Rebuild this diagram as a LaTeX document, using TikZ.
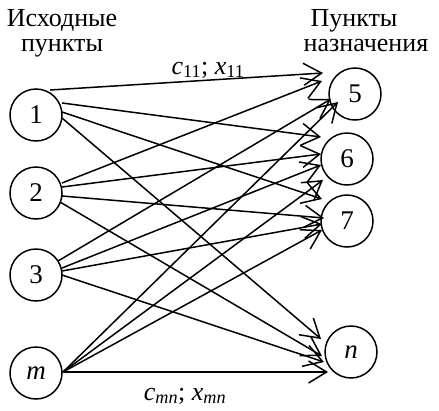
\documentclass[tikz,border=0pt]{standalone}
\usepackage{fontspec}
\setmainfont{Liberation Serif}
\usetikzlibrary{arrows.meta}
\begin{document}
\begin{tikzpicture}[x=1pt,y=-1pt,
  vtx/.style={draw,circle,line width=1.5pt,minimum size=52pt,inner sep=0pt,font=\fontsize{27}{30}\selectfont},
  arr/.style={line width=1.5pt,-{Straight Barb[length=18pt,width=22pt]}},
  hdr/.style={anchor=base,font=\fontsize{26}{28}\selectfont,inner sep=0pt},
  lbl/.style={anchor=base,font=\fontsize{26}{28}\selectfont,inner sep=0pt}]
\useasboundingbox (0,0) rectangle (439,410);
% headers
\node[hdr] (h1a) at (62,26) {Исходные};
\node[hdr] (h1b) at (62,51) {пункты};
\node[hdr] (h2a) at (354,26) {Пункты};
\node[hdr] (h2b) at (366,51) {назначения};
% vertices
\node[vtx] (s1) at (36,115) {1};
\node[vtx] (s2) at (36,193) {2};
\node[vtx] (s3) at (36,275) {3};
\node[vtx] (sm) at (36,373) {\itshape m};
\node[vtx] (t5) at (355,94) {5};
\node[vtx] (t6) at (347,159) {6};
\node[vtx] (t7) at (347,221) {7};
\node[vtx] (tn) at (351,352) {\itshape n};
% arrows from 1
\draw[arr] ([shift={(14,-25)}]s1.center) -- ([shift={(-32,-21)}]t5.center);
\draw[arr] ([shift={(26,-12)}]s1.center) -- ([shift={(-26,-22)}]t6.center);
\draw[arr] ([shift={(26,-3)}]s1.center) -- ([shift={(-25,-22)}]t7.center);
\draw[arr] ([shift={(26,3)}]s1.center) -- ([shift={(-30,-13)}]tn.center);
% arrows from 2
\draw[arr] ([shift={(26,-10)}]s2.center) -- ([shift={(-33,-13)}]t5.center);
\draw[arr] ([shift={(26,-6)}]s2.center) -- ([shift={(-26,-5)}]t6.center);
\draw[arr] ([shift={(26,3)}]s2.center) -- ([shift={(-23,-3)}]t7.center);
\draw[arr] ([shift={(24,9)}]s2.center) -- ([shift={(-29,4)}]tn.center);
% arrows from 3
\draw[arr] ([shift={(22,-14)}]s3.center) -- ([shift={(-24,5)}]t5.center);
\draw[arr] ([shift={(26,-7)}]s3.center) -- ([shift={(-26,6)}]t6.center);
\draw[arr] ([shift={(26,-4)}]s3.center) -- ([shift={(-25,3)}]t7.center);
\draw[arr] ([shift={(26,0)}]s3.center) -- ([shift={(-27,10)}]tn.center);
% arrows from m
\draw[arr] ([shift={(27,-1)}]sm.center) -- ([shift={(-17,8)}]t5.center);
\draw[arr] ([shift={(27,-1)}]sm.center) -- ([shift={(-24,21)}]t6.center);
\draw[arr] ([shift={(27,-1)}]sm.center) -- ([shift={(-25,9)}]t7.center);
\draw[arr] ([shift={(27,-1)}]sm.center) -- ([shift={(-23,20)}]tn.center);
% edge labels
\node[lbl] (l11) at (208,74) {{\itshape c}\textsubscript{11}; {\itshape x}\textsubscript{11}};
\node[lbl] (lmn) at (185,400) {{\itshape c}\textsubscript{\itshape mn}; {\itshape x}\textsubscript{\itshape mn}};
\end{tikzpicture}
\end{document}
